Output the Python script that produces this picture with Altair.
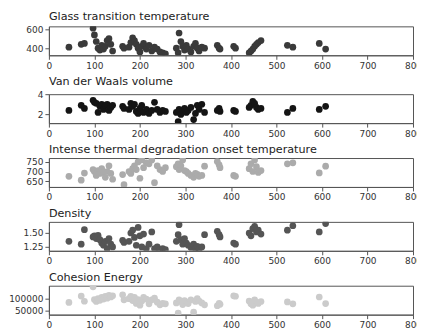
import altair as alt
import pandas as pd

x = [44, 71, 78, 97, 100, 104, 108, 112, 116, 120, 124, 128, 132, 136, 140, 162, 165,
     176, 180, 184, 188, 192, 196, 200, 204, 208, 214, 220, 226, 232, 238, 244, 250, 256,
     280, 284, 286, 290, 294, 298, 302, 306, 312, 318, 322, 326, 330, 336, 342,
     370, 374, 376, 406, 410, 440, 444, 448, 452, 456, 460, 466, 524, 536, 594, 608]

glass = [410, 440, 450, 610, 540, 470, 400, 380, 430, 390, 420, 480, 500, 440, 370, 420, 400,
         410, 460, 510, 480, 440, 400, 360, 420, 450, 390, 430, 370, 410, 390, 360, 350, 340,
         400, 350, 560, 470, 420, 380, 430, 390, 360, 420, 450, 400, 370, 410, 400,
         430, 400, 390, 420, 400, 350, 370, 390, 420, 440, 460, 480, 430, 410, 450, 390]

vdw = [2.4, 2.9, 2.6, 3.4, 3.2, 3.1, 2.2, 2.8, 3.0, 2.5, 2.9, 3.0, 2.4, 2.7, 2.9, 2.8, 2.6,
       2.5, 3.1, 2.8, 3.0, 2.3, 2.1, 2.6, 2.9, 2.2, 2.5, 2.1, 2.4, 3.2, 2.5, 2.2, 2.4, 2.3,
       2.2, 1.3, 2.5, 2.0, 2.4, 2.6, 2.2, 2.4, 2.7, 1.5, 2.1, 2.9, 2.5, 3.0, 2.2,
       2.4, 2.6, 2.3, 2.4, 2.3, 2.7, 2.9, 3.3, 3.1, 2.7, 2.5, 2.6, 2.2, 2.6, 2.5, 2.8]

thermal = [675, 655, 692, 710, 700, 680, 705, 690, 715, 695, 670, 700, 730, 690, 660, 684, 632,
           700, 690, 715, 730, 710, 750, 665, 760, 720, 745, 740, 760, 642, 730, 710, 700, 720,
           725, 740, 710, 730, 760, 705, 700, 690, 680, 670, 690, 685, 675, 680, 728,
           752, 735, 720, 680, 675, 715, 740, 700, 760, 725, 695, 705, 740, 745, 693, 728]

density = [1.35, 1.30, 1.56, 1.43, 1.45, 1.40, 1.46, 1.38, 1.32, 1.28, 1.35, 1.22, 1.40, 1.30, 1.25, 1.37, 1.33,
           1.35, 1.50, 1.55, 1.42, 1.28, 1.60, 1.45, 1.25, 1.48, 1.22, 1.30, 1.52, 1.22, 1.25, 1.20, 1.22, 1.20,
           1.35, 1.47, 1.65, 1.38, 1.30, 1.40, 1.32, 1.28, 1.24, 1.30, 1.22, 1.26, 1.20, 1.25, 1.47,
           1.53, 1.47, 1.43, 1.32, 1.30, 1.50, 1.45, 1.58, 1.62, 1.52, 1.55, 1.48, 1.55, 1.63, 1.52, 1.67]

cohesion = [84000, 111000, 89000, 150000, 96000, 88000, 100000, 93000, 105000, 98000, 110000, 102000, 114000, 107000, 112000, 116000, 95000,
            100000, 110000, 92000, 105000, 80000, 96000, 72000, 90000, 105000, 98000, 78000, 95000, 102000, 85000, 74000, 80000, 78000,
            82000, 39000, 95000, 88000, 75000, 92000, 85000, 79000, 95000, 43000, 88000, 100000, 90000, 82000, 74000,
            70000, 80000, 76000, 112000, 110000, 90000, 78000, 72000, 95000, 85000, 80000, 88000, 86000, 78000, 107000, 79000]

titles = ["Glass transition temperature", "Van der Waals volume",
          "Intense thermal degradation onset temperature", "Density", "Cohesion Energy"]
series = [glass, vdw, thermal, density, cohesion]
colors = ["#3a3a3a", "#141414", "#ababab", "#555555", "#cbcbcb"]
domains = [[325, 630], [1.15, 4.0], [620, 770], [1.18, 1.70], [32500, 154500]]
yticks = [[400, 600], [2, 4], [650, 700, 750], [1.25, 1.5], [50000, 100000]]
yfmt = ["d", "d", "d", ".2f", "d"]
xticks = [0, 100, 200, 300, 400, 500, 600, 700, 800]

panels = []
for t, s, c, d, tk, f in zip(titles, series, colors, domains, yticks, yfmt):
    df = pd.DataFrame({"x": x, "y": s})
    p = alt.Chart(df).mark_circle(size=45, opacity=1, color=c, clip=True).encode(
        x=alt.X("x:Q", scale=alt.Scale(domain=[0, 800], nice=False, zero=False),
                axis=alt.Axis(values=xticks, title=None, grid=False, labelFlush=False,
                              tickSize=4, labelPadding=2, labelFontSize=9)),
        y=alt.Y("y:Q", scale=alt.Scale(domain=d, nice=False, zero=False),
                axis=alt.Axis(values=tk, format=f, title=None, grid=False,
                              tickSize=4, labelPadding=2, labelFontSize=9)),
    ).properties(width=365, height=29,
                 title=alt.TitleParams(t, anchor="start", frame="group", fontSize=11.2,
                                       fontWeight="normal", offset=3, color="#222"))
    panels.append(p)

chart = alt.vconcat(*panels, spacing=4).configure_axis(
    labelFont="DejaVu Sans", labelColor="#333", domainColor="#555", tickColor="#555"
).configure_title(font="DejaVu Sans").configure_view(stroke="#555", strokeWidth=1).properties(
    padding={"left": 0, "top": 2, "right": -6, "bottom": 0}
)

chart.save("out.html", embed_options={"renderer": "svg", "actions": False})
